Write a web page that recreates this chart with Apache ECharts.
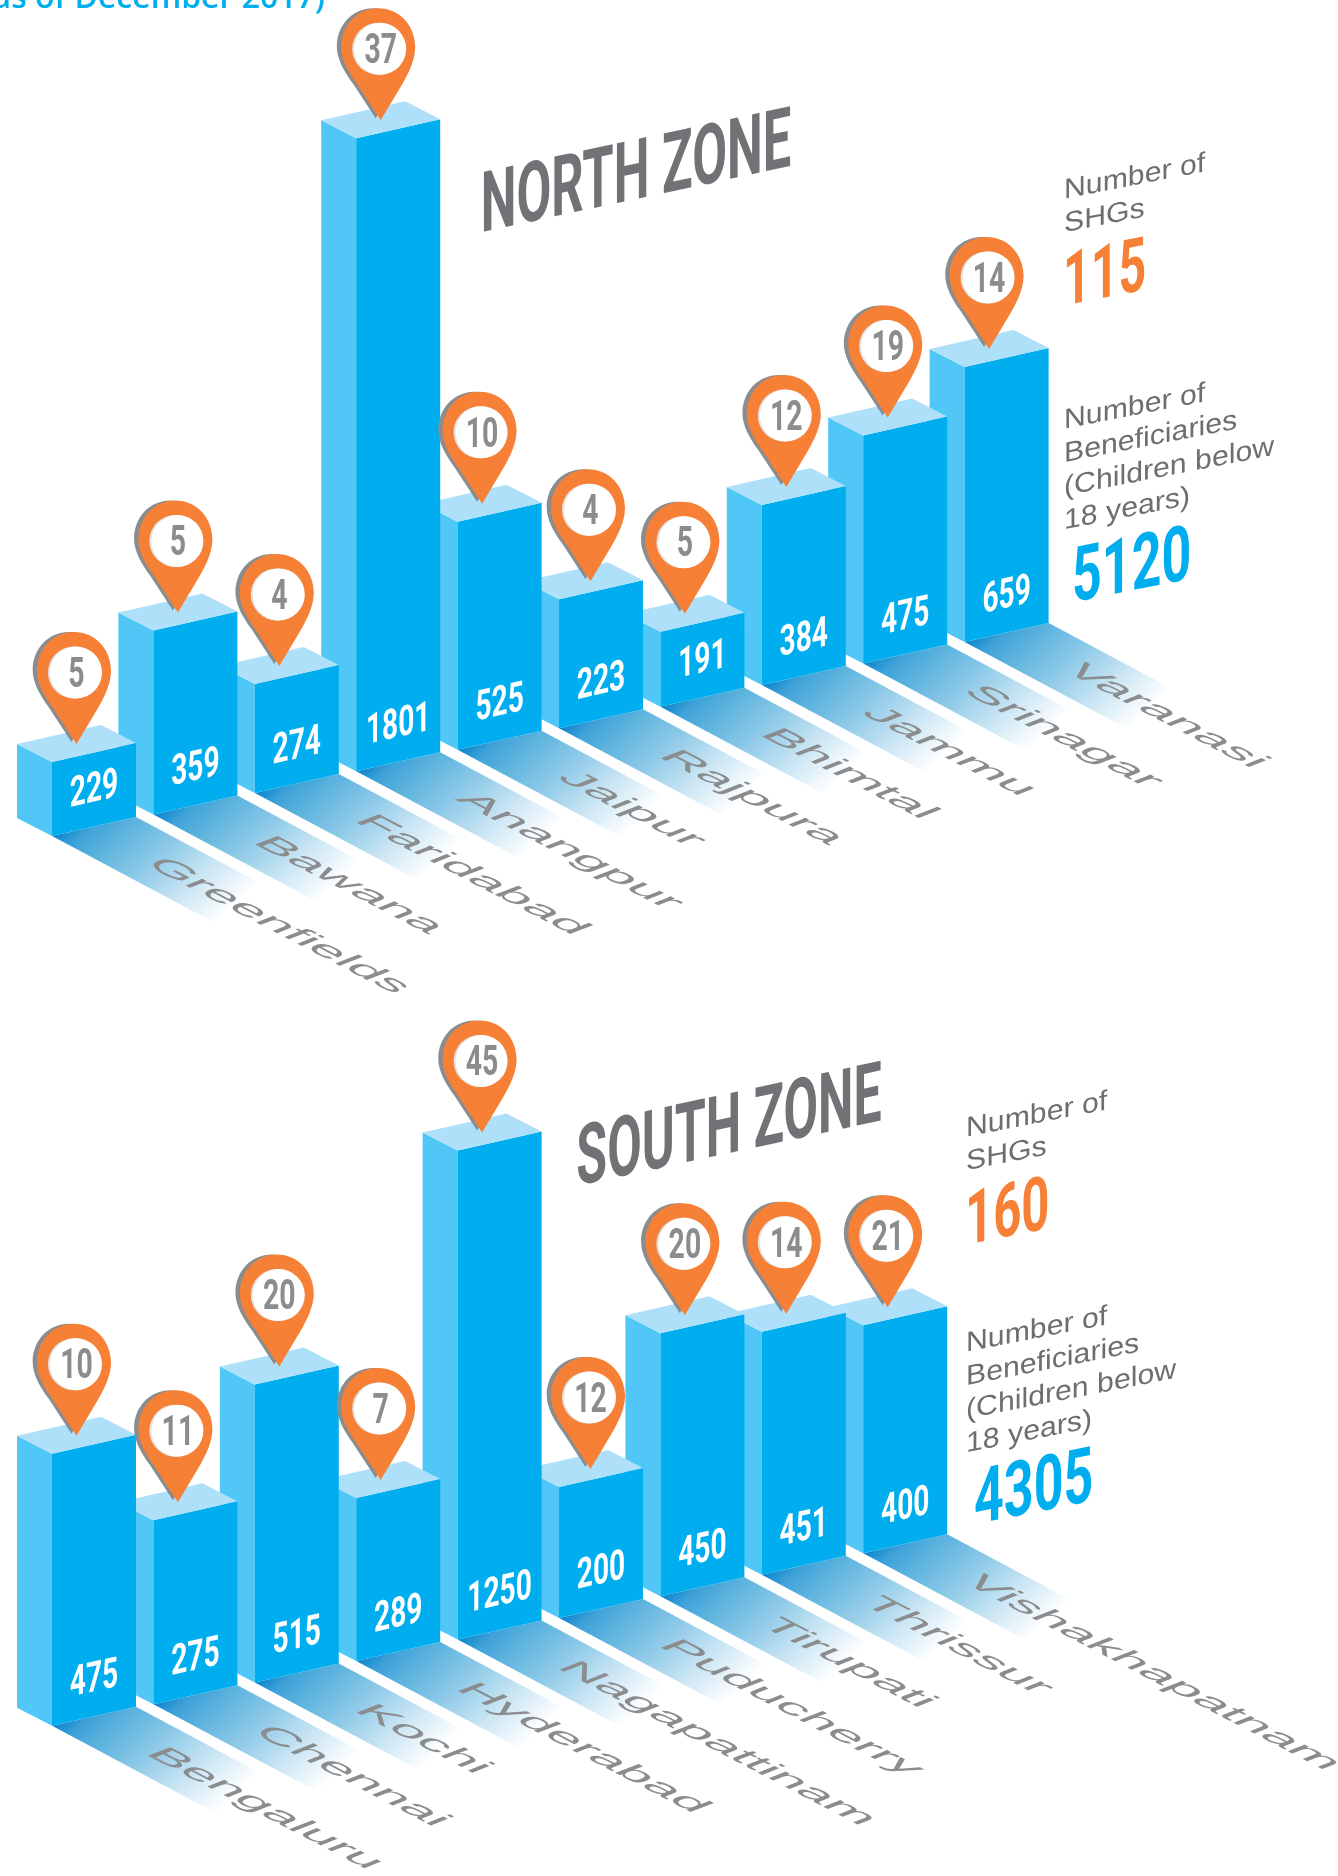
<!DOCTYPE html>
<html>
<head>
<meta charset="utf-8">
<title>North and South zone</title>
<script src="https://cdn.jsdelivr.net/npm/echarts@6/dist/echarts.min.js"></script>
<style>
  html, body { margin: 0; padding: 0; background: #fff; }
  #chart { width: 1338px; height: 1876px; }
</style>
</head>
<body>
<div id="chart"></div>
<script>
// north zone
const northCities = ['Greenfields', 'Bawana', 'Faridabad', 'Anangpur', 'Jaipur', 'Rajpura', 'Bhimtal', 'Jammu', 'Srinagar', 'Varanasi']
const northChildren = [229, 359, 274, 1801, 525, 223, 191, 384, 475, 659]
const northShgs = [5, 5, 4, 37, 10, 4, 5, 12, 19, 14]
// bar length as drawn, the picture is not to scale with the printed numbers
const northLevels = [74, 184, 109, 633, 228, 129, 75, 180, 228, 275]
const northTotalShgs = '115'
const northTotalChildren = '5120'

// south zone
const southCities = ['Bengaluru', 'Chennai', 'Kochi', 'Hyderabad', 'Nagapattinam', 'Puducherry', 'Tirupati', 'Thrissur', 'Vishakhapatnam']
const southChildren = [475, 275, 515, 289, 1250, 200, 450, 451, 400]
const southShgs = [10, 11, 20, 7, 45, 12, 20, 14, 21]
const southLevels = [272, 184, 298, 163, 489, 131, 263, 243, 228]
const southTotalShgs = '160'
const southTotalChildren = '4305'

const BLUE = '#00aeef'
const SIDE = '#50c7f7'
const TOP = '#aee0f9'
const ORANGE = '#f58036'
const GREY = '#8a8c8e'
const TITLE_GREY = '#717276'
const NOTE_GREY = '#6d6e71'

const TILT = 0.2126 // baseline of the bars climbs to the right
const STEP = 101.4
const DIGITS = 'Roboto, "Liberation Sans", sans-serif'
const PLAIN = '"Liberation Sans", Arial, sans-serif'
const PIN_PATH = 'M37,0 C58,0 74,17 74,39 C74,51 68,64 61,76 L39.5,112 L16,76 C7,64 0,51 0,39 C0,17 16,0 37,0 Z'

// text with any 2x2 matrix: rotate * scale * rotate
const placeText = (text, x, y, m, font, fill, align) => {
  const [a, c, b, d] = m
  const e = (a + d) / 2, f = (a - d) / 2, g = (c + b) / 2, h = (c - b) / 2
  const q = Math.hypot(e, h), r = Math.hypot(f, g)
  const a1 = Math.atan2(g, f), a2 = Math.atan2(h, e)
  return {
    type: 'group',
    x: x,
    y: y,
    rotation: -(a2 + a1) / 2,
    scaleX: q + r,
    scaleY: q - r,
    children: [{
      type: 'text',
      rotation: -(a2 - a1) / 2,
      style: { text: text, x: 0, y: 0, font: font, fill: fill, align: align || 'center', verticalAlign: 'middle' }
    }]
  }
}

const lift = (api, idx, level) => {
  const p = api.coord([idx, level])
  const x0 = api.coord([0, 0])[0]
  return [p[0], p[1] - TILT * (p[0] - x0)]
}
const move = (p, dx, dy) => [p[0] + dx, p[1] + dy]

const renderBar = (params, api) => {
  const idx = api.value(0)
  const top = lift(api, idx, api.value(1))
  const foot = lift(api, idx, 0)
  const poly = (points, fill) => ({ type: 'polygon', shape: { points: points }, style: { fill: fill } })
  const tl = move(top, -59.5, 0), tf = move(top, -24.5, 18), tr = move(top, 59.5, -1), tb = move(top, 24.5, -19)
  const fl = move(foot, -59.5, 0), ff = move(foot, -24.5, 18), fr = move(foot, 59.5, -1)
  return {
    type: 'group',
    children: [
      poly([tl, tf, ff, fl], SIDE),
      poly([tf, tr, fr, ff], BLUE),
      poly([tl, tf, tr, tb], TOP),
      placeText(String(api.value(2)), foot[0] + 17.5, foot[1] + 8.5 - 35.5, [0.67, -0.15, 0, 1], 'bold 42px ' + DIGITS, '#fff')
    ]
  }
}

const renderFloor = (params, api) => {
  const foot = lift(api, api.value(0), 0)
  const f = move(foot, -24.5, 18), r = move(foot, 59.5, -1)
  return {
    type: 'polygon',
    shape: { points: [f, r, move(r, 165, 88), move(f, 165, 88)] },
    style: {
      fill: {
        type: 'linear', global: true,
        x: f[0], y: f[1], x2: f[0] + 122, y2: f[1] + 128,
        colorStops: [
          { offset: 0, color: '#0b84cc' },
          { offset: 0.12, color: '#3fa2d9' },
          { offset: 0.25, color: '#5ab2dd' },
          { offset: 0.5, color: '#8fcae8' },
          { offset: 0.75, color: '#cbe6f4' },
          { offset: 1, color: '#ffffff' }
        ]
      }
    }
  }
}

const renderPin = (params, api) => {
  const idx = api.value(0)
  const tip = lift(api, idx, api.value(1))
  // the pin on the sixth bar of each zone sits right of the face centre
  const x = tip[0] + (idx === 5 ? 7 : 0), y = tip[1]
  const body = (dx, h, fill) => ({
    type: 'path',
    shape: { pathData: PIN_PATH, x: x - 39.5 + dx, y: y - 112, width: 74, height: h },
    style: { fill: fill }
  })
  return {
    type: 'group',
    children: [
      body(-5, 110, GREY),
      body(0, 112, ORANGE),
      { type: 'circle', shape: { cx: x - 2.5, cy: y - 71.5, r: 26 }, style: { fill: '#e4e5e6' } },
      { type: 'circle', shape: { cx: x - 0.5, cy: y - 71.5, r: 26 }, style: { fill: '#fff' } },
      placeText(String(api.value(3)), x, y - 68, [0.66, 0, 0, 1], 'bold 43px ' + DIGITS, GREY)
    ]
  }
}

const zoneSeries = (index, cities, children, shgs, levels) => {
  const rows = cities.map((c, i) => [c, levels[i], children[i], shgs[i]]).reverse()
  const renderLabel = (params, api) => {
    const idx = api.value(0)
    const foot = lift(api, idx, 0)
    // first label starts a little closer to its bar than the others
    const nudge = idx === 0 ? 0 : 6
    return placeText(cities[idx], foot[0] + 59.5 + 17 + nudge, foot[1] - 1 + 48.5 - 5, [1.633, 0.85, -1.067, 0.417], '30px ' + PLAIN, GREY, 'left')
  }
  return [renderFloor, renderLabel, renderBar, renderPin].map((fn, z) => ({
    type: 'custom',
    coordinateSystem: 'cartesian2d',
    xAxisIndex: index,
    yAxisIndex: index,
    renderItem: fn,
    data: rows,
    encode: { x: 0, y: 1 },
    z: z + 1,
    silent: true,
    clip: false,
    animation: false
  }))
}

const noteBlock = (lines, x, y) => lines.map((line, i) =>
  placeText(line, x, y + i * 33.5, [1.08, -0.21, 0, 1], '28px ' + PLAIN, NOTE_GREY, 'left'))

const skewed = (text, x, y, sx, size, fill) =>
  placeText(text, x, y, [sx, -sx * 0.2, 0, 1], 'bold ' + size + 'px ' + DIGITS, fill, 'left')

const option = {
  backgroundColor: '#fff',
  animation: false,
  grid: [
    { left: 25.8, width: STEP * northCities.length, top: 118, height: 700 },
    { left: 25.8, width: STEP * southCities.length, top: 1207.7, height: 500 }
  ],
  xAxis: [
    { type: 'category', gridIndex: 0, data: northCities, show: false },
    { type: 'category', gridIndex: 1, data: southCities, show: false }
  ],
  yAxis: [
    { type: 'value', gridIndex: 0, min: 0, max: 700, show: false },
    { type: 'value', gridIndex: 1, min: 0, max: 500, show: false }
  ],
  graphic: {
    elements: [
      { type: 'text', z: 10, style: { text: '(as of December 2017)', x: 325, y: -1, font: '600 32px "Open Sans", "Noto Sans", sans-serif', fill: BLUE, align: 'right', verticalAlign: 'middle' } },
      placeText('NORTH ZONE', 636, 178, [0.603, -0.129, 0, 1], 'bold 84px ' + DIGITS, TITLE_GREY),
      placeText('SOUTH ZONE', 729, 1132, [0.597, -0.128, 0, 1], 'bold 84px ' + DIGITS, TITLE_GREY),
      ...noteBlock(['Number of', 'SHGs'], 1064, 191),
      ...noteBlock(['Number of', 'Beneficiaries', '(Children below', '18 years)'], 1064, 421),
      skewed(northTotalShgs, 1063, 287, 0.645, 75, ORANGE),
      skewed(northTotalChildren, 1072, 583, 0.675, 77, BLUE),
      ...noteBlock(['Number of', 'SHGs'], 966, 1129),
      ...noteBlock(['Number of', 'Beneficiaries', '(Children below', '18 years)'], 966, 1344),
      skewed(southTotalShgs, 965, 1226, 0.655, 75, ORANGE),
      skewed(southTotalChildren, 974, 1505, 0.675, 77, BLUE)
    ]
  },
  series: [
    ...zoneSeries(0, northCities, northChildren, northShgs, northLevels),
    ...zoneSeries(1, southCities, southChildren, southShgs, southLevels)
  ]
}

const chart = echarts.init(document.getElementById('chart'))
chart.setOption(option)
</script>
</body>
</html>
